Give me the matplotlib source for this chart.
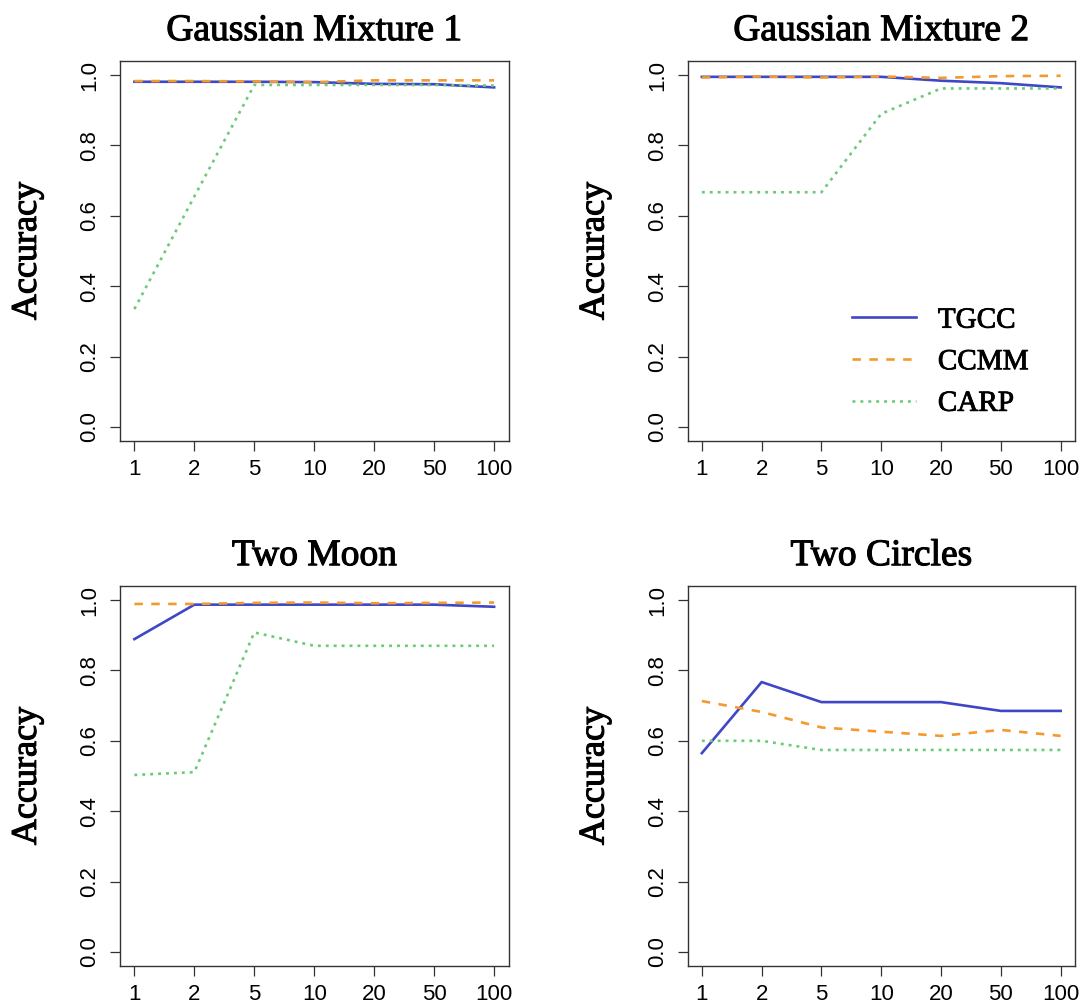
import matplotlib
matplotlib.use("Agg")
import matplotlib.pyplot as plt
import matplotlib.patheffects as pe

# x categories (number of ... on a categorical axis)
x_labels = ['1', '2', '5', '10', '20', '50', '100']

titles = ['Gaussian Mixture 1', 'Gaussian Mixture 2', 'Two Moon', 'Two Circles']

# accuracy values
tgcc_gm1 = [0.981, 0.981, 0.981, 0.980, 0.975, 0.974, 0.965]
ccmm_gm1 = [0.983, 0.983, 0.982, 0.980, 0.985, 0.985, 0.985]
carp_gm1 = [0.335, 0.655, 0.972, 0.972, 0.972, 0.972, 0.970]

tgcc_gm2 = [0.995, 0.995, 0.995, 0.995, 0.984, 0.977, 0.965]
ccmm_gm2 = [0.993, 0.996, 0.993, 0.996, 0.992, 0.997, 0.998]
carp_gm2 = [0.667, 0.667, 0.667, 0.890, 0.962, 0.962, 0.962]

tgcc_moon = [0.889, 0.987, 0.987, 0.987, 0.987, 0.987, 0.981]
ccmm_moon = [0.989, 0.989, 0.992, 0.993, 0.991, 0.992, 0.993]
carp_moon = [0.503, 0.511, 0.908, 0.870, 0.870, 0.870, 0.870]

tgcc_circ = [0.565, 0.767, 0.710, 0.710, 0.710, 0.685, 0.685]
ccmm_circ = [0.713, 0.682, 0.638, 0.626, 0.614, 0.631, 0.614]
carp_circ = [0.600, 0.600, 0.574, 0.574, 0.574, 0.574, 0.574]

series = [
    (tgcc_gm1, ccmm_gm1, carp_gm1),
    (tgcc_gm2, ccmm_gm2, carp_gm2),
    (tgcc_moon, ccmm_moon, carp_moon),
    (tgcc_circ, ccmm_circ, carp_circ),
]
names = ['TGCC', 'CCMM', 'CARP']
colors = ['#3F47C6', '#F29A30', '#6ACB78']

serif = ['Liberation Serif', 'DejaVu Serif']
sans = ['Liberation Sans', 'DejaVu Sans']
# heavier look for the serif text
heavy = [pe.withStroke(linewidth=0.8, foreground='black')]

W, H = 1084, 1007
fig = plt.figure(figsize=(W / 100, H / 100), dpi=100)

# axes boxes in pixels: left, top, right, bottom
boxes = [(120, 61, 508.5, 441), (687.5, 61, 1075, 441),
         (120, 586, 508.5, 966), (687.5, 586, 1075, 966)]

xs = list(range(len(x_labels)))
axes = []
for i, (l, t, r, b) in enumerate(boxes):
    ax = fig.add_axes([l / W, (H - b) / H, (r - l) / W, (b - t) / H])
    tg, cc, ca = series[i]
    ax.plot(xs, tg, color=colors[0], lw=1.9, label=names[0])
    ax.plot(xs, cc, color=colors[1], lw=1.9, dashes=(3.2, 3.2), label=names[1])
    ax.plot(xs, ca, color=colors[2], lw=1.9, dashes=(1.1, 1.9), label=names[2])

    ax.set_xlim(-0.24, 6.24)
    ax.set_ylim(-0.04, 1.04)
    ax.set_xticks(xs)
    ax.set_xticklabels(x_labels, family=sans, fontsize=16)
    ax.set_yticks([0, 0.2, 0.4, 0.6, 0.8, 1.0])
    ax.set_yticklabels(['0.0', '0.2', '0.4', '0.6', '0.8', '1.0'],
                       family=sans, fontsize=16, rotation=90, va='center')
    ax.tick_params(length=7.2, width=0.9, color='#333333', pad=7)
    ax.tick_params(axis='x', pad=6)
    for sp in ax.spines.values():
        sp.set_linewidth(1.0)
        sp.set_color('#333333')

    ax.set_title(titles[i], family=serif, fontsize=27, pad=15,
                 path_effects=heavy)
    ax.set_ylabel('Accuracy', family=serif, fontsize=26, path_effects=heavy)
    ax.yaxis.set_label_coords(-0.196, 0.5)
    axes.append(ax)

leg = axes[1].legend(loc='upper left', bbox_to_anchor=(0.424, 0.352),
                     frameon=False, prop={'family': serif, 'size': 21},
                     handlelength=2.2, handletextpad=0.75, labelspacing=0.52,
                     borderpad=0, borderaxespad=0)
for txt in leg.get_texts():
    txt.set_path_effects([pe.withStroke(linewidth=0.6, foreground='black')])

fig.savefig('out.png', dpi=100)
